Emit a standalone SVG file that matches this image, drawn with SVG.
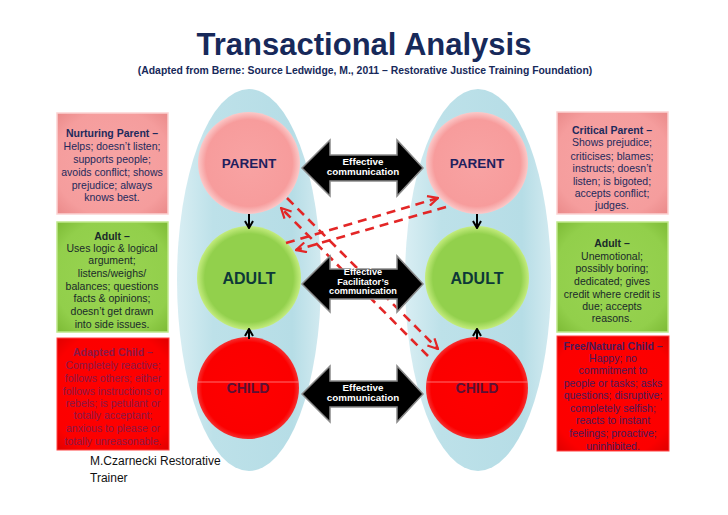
<svg xmlns="http://www.w3.org/2000/svg" width="728" height="515" viewBox="0 0 728 515">
<style>
.title{font-family:"Liberation Sans",Arial,sans-serif;font-weight:bold;fill:#17295a;text-anchor:middle}
.bx{font-family:"Liberation Sans",Arial,sans-serif;font-size:10.5px;text-anchor:middle}
.bh{font-weight:bold}
.cl{font-family:"Liberation Sans",Arial,sans-serif;font-weight:bold;text-anchor:middle}
.at{font-family:"Liberation Sans",Arial,sans-serif;font-weight:bold;font-size:9.8px;fill:#fff;text-anchor:middle}
.at2{font-family:"Liberation Sans",Arial,sans-serif;font-weight:bold;font-size:9.2px;fill:#fff;text-anchor:middle}
.dbl{fill:#000;stroke:#8a8a8a;stroke-width:1.5;stroke-linejoin:miter}
.dash{fill:none;stroke:#e32626;stroke-width:2.6;stroke-dasharray:9 6}
.sm{fill:none;stroke:#000;stroke-width:2}
.foot{font-family:"Liberation Sans",Arial,sans-serif;font-size:12px;fill:#111}
</style>
<defs>
<linearGradient id="ell" x1="0" y1="0" x2="1" y2="0">
<stop offset="0" stop-color="#d9eef3"/>
<stop offset="0.25" stop-color="#bde1e9"/>
<stop offset="0.8" stop-color="#b6dde6"/>
<stop offset="1" stop-color="#d2eaf0"/>
</linearGradient>
<radialGradient id="gP" cx="0.5" cy="0.5" r="0.5">
<stop offset="0" stop-color="#f8a3a3"/>
<stop offset="0.85" stop-color="#f79c9c"/>
<stop offset="1" stop-color="#fbc9c9"/>
</radialGradient>
<radialGradient id="gA" cx="0.5" cy="0.5" r="0.5">
<stop offset="0" stop-color="#92d04c"/>
<stop offset="0.85" stop-color="#92d04c"/>
<stop offset="1" stop-color="#c4ec7e"/>
</radialGradient>
<radialGradient id="gC" cx="0.5" cy="0.5" r="0.5">
<stop offset="0" stop-color="#ff0000"/>
<stop offset="0.9" stop-color="#fb0000"/>
<stop offset="1" stop-color="#f53030"/>
</radialGradient>
<radialGradient id="bP" cx="0.5" cy="0.5" r="0.7">
<stop offset="0" stop-color="#f7a4a4"/>
<stop offset="0.75" stop-color="#f59d9d"/>
<stop offset="1" stop-color="#ea8a8a"/>
</radialGradient>
<radialGradient id="bA" cx="0.5" cy="0.5" r="0.7">
<stop offset="0" stop-color="#99d452"/>
<stop offset="0.75" stop-color="#92cf4b"/>
<stop offset="1" stop-color="#7dbb36"/>
</radialGradient>
<radialGradient id="bC" cx="0.5" cy="0.5" r="0.7">
<stop offset="0" stop-color="#ff0000"/>
<stop offset="0.8" stop-color="#fc0000"/>
<stop offset="1" stop-color="#e00000"/>
</radialGradient>
<marker id="rh" viewBox="0 0 12 12" refX="11" refY="6" markerWidth="12" markerHeight="12" markerUnits="userSpaceOnUse" orient="auto">
<path d="M1,1 L11,6 L1,11" fill="none" stroke="#e32626" stroke-width="2.2"/>
</marker>
<marker id="kh" viewBox="0 0 10 10" refX="9" refY="5" markerWidth="10" markerHeight="10" markerUnits="userSpaceOnUse" orient="auto">
<path d="M2,1 L9,5 L2,9" fill="none" stroke="#000" stroke-width="2"/>
</marker>
</defs>
<rect width="728" height="515" fill="#fff"/>

<text class="title" x="364" y="55" font-size="31">Transactional Analysis</text>
<text class="title" x="365" y="74" font-size="10.4">(Adapted from Berne: Source Ledwidge, M., 2011 – Restorative Justice Training Foundation)</text>

<g id="ellipse-left"><ellipse cx="249" cy="280" rx="72" ry="191" fill="url(#ell)"/></g>
<g id="ellipse-right"><ellipse cx="478" cy="280" rx="73" ry="191" fill="url(#ell)"/></g>

<g id="box-nurturing-parent">
<rect x="57" y="113" width="111" height="101" fill="url(#bP)" stroke="#fbd2d2" stroke-width="1.5"/>
<text class="bx" fill="#1d2a5c"><tspan class="bh" x="112" y="137">Nurturing Parent –</tspan><tspan x="112" y="150">Helps; doesn’t listen;</tspan><tspan x="112" y="163">supports people;</tspan><tspan x="112" y="176">avoids conflict; shows</tspan><tspan x="112" y="189">prejudice; always</tspan><tspan x="112" y="201">knows best.</tspan></text>
</g>
<g id="box-adult-left">
<rect x="57" y="222" width="111" height="110" fill="url(#bA)" stroke="#bfe88a" stroke-width="1.5"/>
<text class="bx" fill="#1a2a2a"><tspan class="bh" x="112" y="240">Adult –</tspan><tspan x="112" y="252">Uses logic &amp; logical</tspan><tspan x="112" y="264">argument;</tspan><tspan x="112" y="277">listens/weighs/</tspan><tspan x="112" y="290">balances; questions</tspan><tspan x="112" y="302">facts &amp; opinions;</tspan><tspan x="112" y="315">doesn’t get drawn</tspan><tspan x="112" y="328">into side issues.</tspan></text>
</g>
<g id="box-adapted-child">
<rect x="57" y="338" width="112" height="112" fill="url(#bC)" stroke="#f44" stroke-width="1"/>
<text class="bx" fill="#8a1848"><tspan class="bh" x="113" y="356">Adapted Child –</tspan><tspan x="113" y="369">Completely reactive;</tspan><tspan x="113" y="382">follows others; either</tspan><tspan x="113" y="395">follows instructions or</tspan><tspan x="113" y="407">rebels; is petulant or</tspan><tspan x="113" y="419">totally acceptant;</tspan><tspan x="113" y="432">anxious to please or</tspan><tspan x="113" y="445">totally unreasonable.</tspan></text>
</g>

<g id="box-critical-parent">
<rect x="557" y="112" width="111" height="102" fill="url(#bP)" stroke="#fbd2d2" stroke-width="1.5"/>
<text class="bx" fill="#1d2a5c"><tspan class="bh" x="612" y="134">Critical Parent –</tspan><tspan x="612" y="146">Shows prejudice;</tspan><tspan x="612" y="160">criticises; blames;</tspan><tspan x="612" y="172">instructs; doesn’t</tspan><tspan x="612" y="185">listen; is bigoted;</tspan><tspan x="612" y="197">accepts conflict;</tspan><tspan x="612" y="209">judges.</tspan></text>
</g>
<g id="box-adult-right">
<rect x="557" y="222" width="111" height="110" fill="url(#bA)" stroke="#bfe88a" stroke-width="1.5"/>
<text class="bx" fill="#1a2a2a"><tspan class="bh" x="612" y="247">Adult –</tspan><tspan x="612" y="260">Unemotional;</tspan><tspan x="612" y="272">possibly boring;</tspan><tspan x="612" y="285">dedicated; gives</tspan><tspan x="612" y="298">credit where credit is</tspan><tspan x="612" y="310">due; accepts</tspan><tspan x="612" y="322">reasons.</tspan></text>
</g>
<g id="box-free-child">
<rect x="557" y="336" width="112" height="115" fill="url(#bC)" stroke="#f44" stroke-width="1"/>
<text class="bx" fill="#4a1a5a"><tspan class="bh" x="613" y="350">Free/Natural Child –</tspan><tspan x="613" y="362">Happy; no</tspan><tspan x="613" y="374">commitment to</tspan><tspan x="613" y="387">people or tasks; asks</tspan><tspan x="613" y="399">questions; disruptive;</tspan><tspan x="613" y="412">completely selfish;</tspan><tspan x="613" y="424">reacts to instant</tspan><tspan x="613" y="437">feelings; proactive;</tspan><tspan x="613" y="450">uninhibited.</tspan></text>
</g>

<g id="parent-left"><circle cx="249" cy="163" r="51" fill="url(#gP)"/><text class="cl" x="249" y="168" font-size="13.5" fill="#1f205e">PARENT</text></g>
<g id="adult-left"><circle cx="249" cy="278" r="52" fill="url(#gA)"/><text class="cl" x="249" y="284" font-size="16" fill="#0d3838">ADULT</text></g>
<g id="child-left"><circle cx="248" cy="388" r="51" fill="url(#gC)"/><line x1="197" y1="382" x2="299" y2="382" stroke="#ff8a8a" stroke-width="0.8"/><text class="cl" x="248" y="393" font-size="14" fill="#5c1035">CHILD</text></g>
<g id="parent-right"><circle cx="477" cy="163" r="51" fill="url(#gP)"/><text class="cl" x="477" y="168" font-size="13.5" fill="#1f205e">PARENT</text></g>
<g id="adult-right"><circle cx="477" cy="278" r="52" fill="url(#gA)"/><text class="cl" x="477" y="284" font-size="16" fill="#0d3838">ADULT</text></g>
<g id="child-right"><circle cx="477" cy="388" r="51" fill="url(#gC)"/><line x1="426" y1="382" x2="528" y2="382" stroke="#ff8a8a" stroke-width="0.8"/><text class="cl" x="477" y="393" font-size="14" fill="#5c1035">CHILD</text></g>

<g id="connectors">
<line class="dash" x1="287" y1="198" x2="438" y2="349" marker-end="url(#rh)"/>
<line class="dash" x1="428" y1="356" x2="281" y2="208" marker-end="url(#rh)"/>
<line class="dash" x1="286" y1="243" x2="438" y2="198" marker-end="url(#rh)"/>
<line class="dash" x1="446" y1="207" x2="296" y2="250" marker-end="url(#rh)"/>

<path class="dbl" d="M302,168 L330,140 L330,155 L397,155 L397,140 L423,168 L397,196 L397,181 L330,181 L330,196 Z"/>
<text class="at" x="363" y="165">Effective</text>
<text class="at" x="363" y="175">communication</text>
<path class="dbl" d="M302,284 L330,256 L330,269 L397,269 L397,256 L423,284 L397,312 L397,299 L330,299 L330,312 Z"/>
<text class="at2" x="363" y="275">Effective</text>
<text class="at2" x="363" y="284.5">Facilitator’s</text>
<text class="at2" x="363" y="294">communication</text>
<path class="dbl" d="M302,394 L330,366 L330,381 L397,381 L397,366 L423,394 L397,422 L397,407 L330,407 L330,422 Z"/>
<text class="at" x="363" y="391">Effective</text>
<text class="at" x="363" y="401">communication</text>

<line class="sm" x1="249" y1="214" x2="249" y2="228" marker-end="url(#kh)"/>
<line class="sm" x1="477" y1="214" x2="477" y2="228" marker-end="url(#kh)"/>
<line class="sm" x1="249" y1="339" x2="249" y2="329" marker-end="url(#kh)"/>
<line class="sm" x1="477" y1="339" x2="477" y2="329" marker-end="url(#kh)"/>
</g>

<text class="foot" x="90" y="465">M.Czarnecki Restorative</text>
<text class="foot" x="90" y="482">Trainer</text>
</svg>
